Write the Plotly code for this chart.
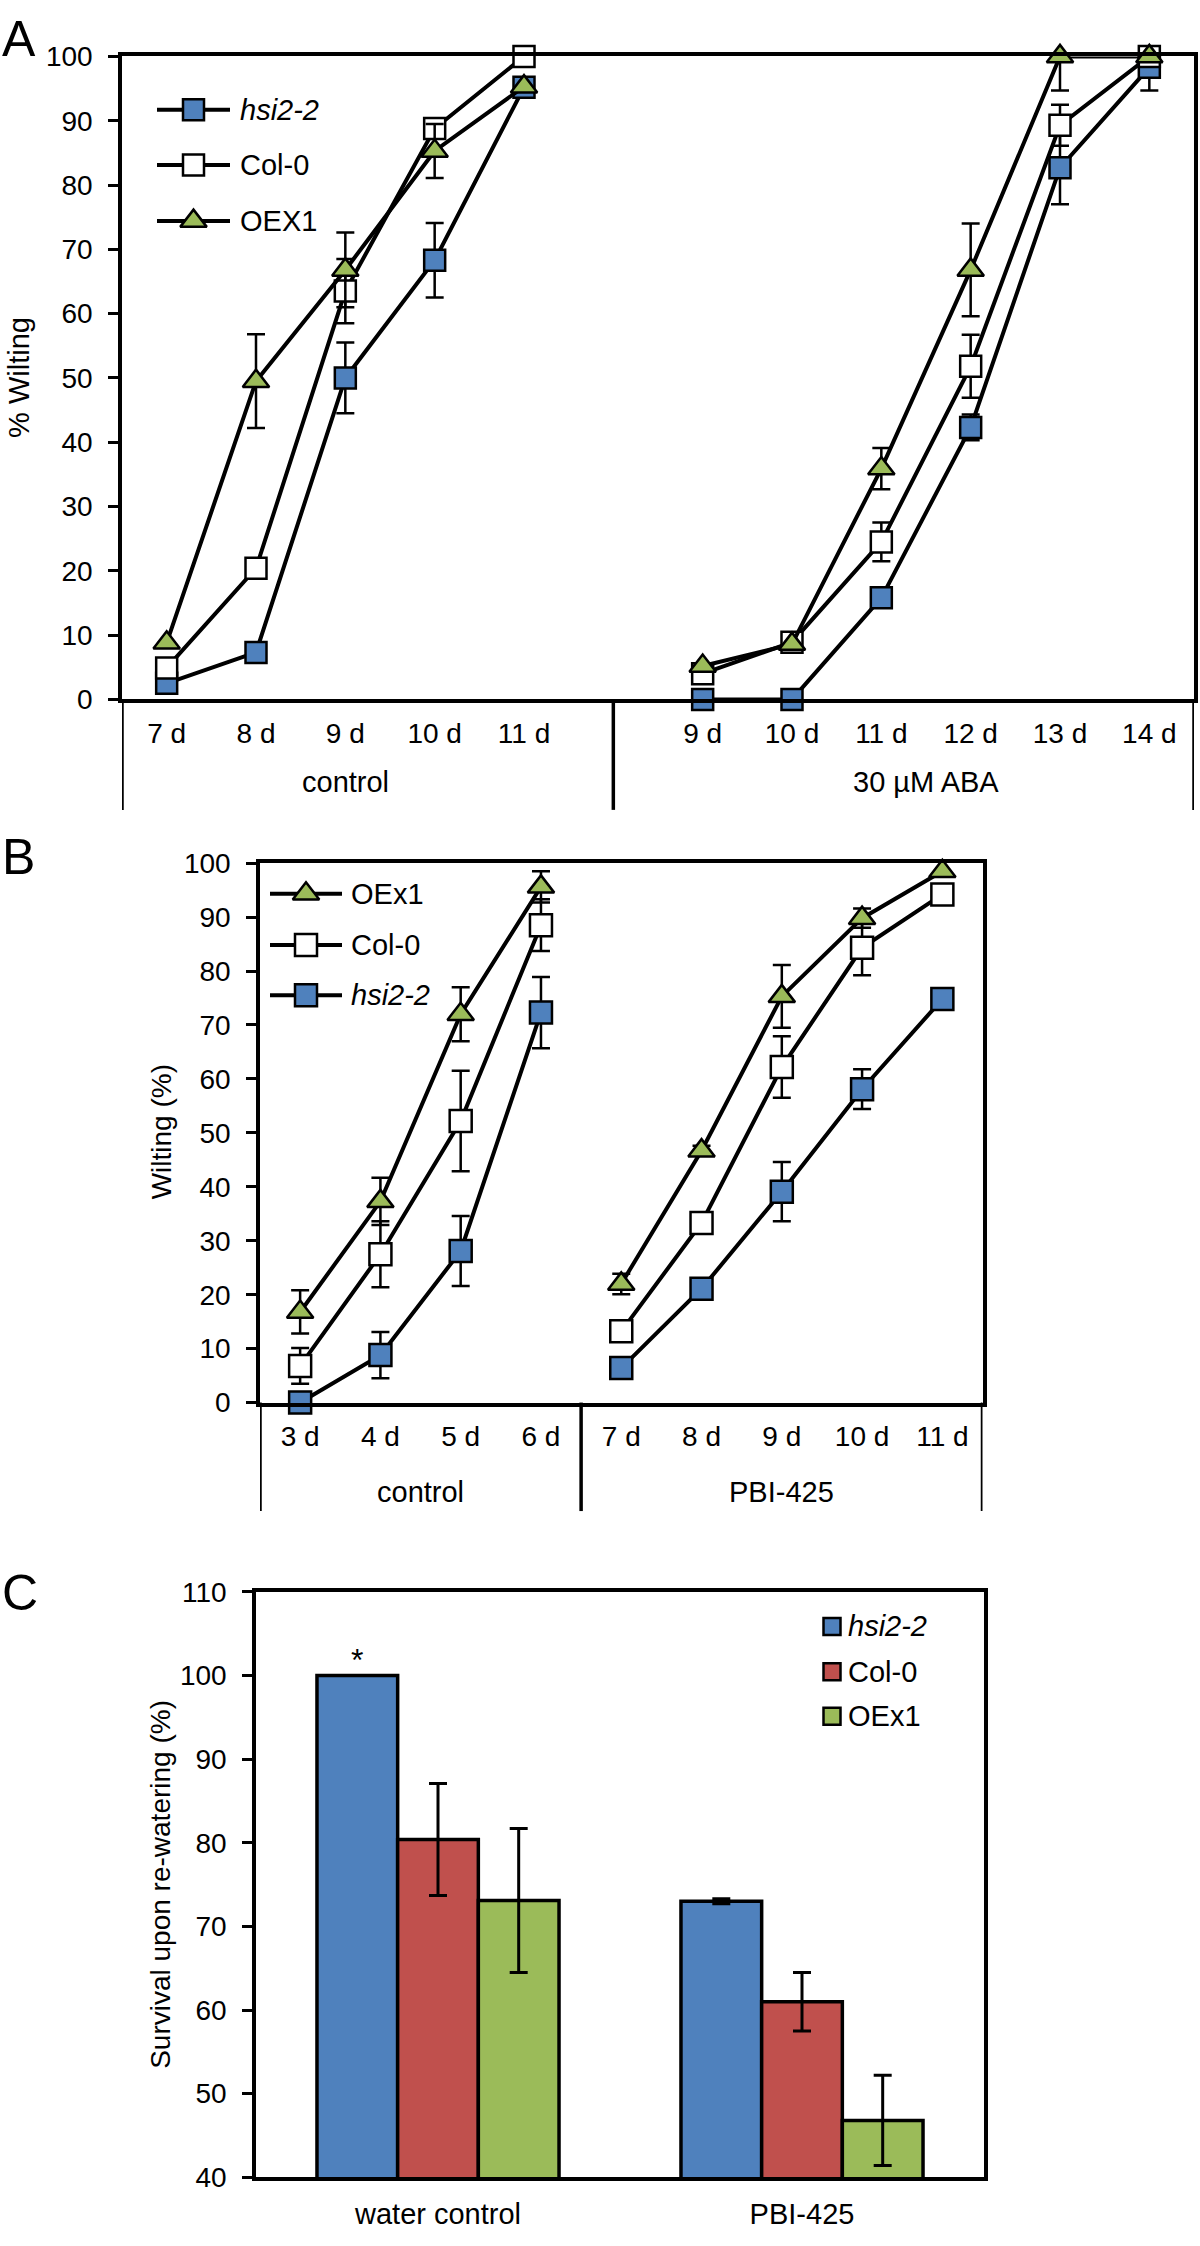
import plotly.graph_objects as go

# ---------------- DATA ----------------
# Panel A (% wilting)
a_groups = ["control", "30 µM ABA"]
a_ctrl_days = ["7 d", "8 d", "9 d", "10 d", "11 d"]
a_aba_days = ["9 d", "10 d", "11 d", "12 d", "13 d", "14 d"]
a_hsi_ctrl = [2.5, 7.3, 50.0, 68.3, 95.2]
a_hsi_ctrl_err = [None, None, 5.5, 5.8, None]
a_col_ctrl = [4.9, 20.4, 63.5, 88.8, 100.0]
a_col_ctrl_err = [None, None, 5.0, None, None]
a_oex_ctrl = [8.8, 49.5, 66.8, 85.3, 95.3]
a_oex_ctrl_err = [None, 7.3, 5.8, 4.2, None]
a_hsi_aba = [0.0, 0.0, 15.8, 42.3, 82.7, 98.3]
a_hsi_aba_err = [None, None, None, 2.0, 5.7, 3.6]
a_col_aba = [4.0, 8.9, 24.5, 51.8, 89.3, 100.0]
a_col_aba_err = [None, 1.5, 3.0, 4.9, 3.2, None]
a_oex_aba = [5.2, 8.6, 35.9, 66.8, 100.0, 100.0]
a_oex_aba_err = [None, None, 3.2, 7.2, 5.3, None]

# Panel B (wilting %)
b_groups = ["control", "PBI-425"]
b_ctrl_days = ["3 d", "4 d", "5 d", "6 d"]
b_pbi_days = ["7 d", "8 d", "9 d", "10 d", "11 d"]
b_oex_ctrl = [16.8, 37.3, 72.0, 95.6]
b_oex_ctrl_err = [4.0, 4.4, 5.0, 2.9]
b_col_ctrl = [6.8, 27.5, 52.2, 88.5]
b_col_ctrl_err = [3.3, 6.1, 9.3, 4.8]
b_hsi_ctrl = [0.0, 8.8, 28.1, 72.3]
b_hsi_ctrl_err = [None, 4.3, 6.5, 6.6]
b_oex_pbi = [22.0, 46.7, 75.3, 89.8, 98.5]
b_oex_pbi_err = [1.9, 0.9, 5.8, 1.8, None]
b_col_pbi = [13.2, 33.3, 62.2, 84.3, 94.2]
b_col_pbi_err = [None, None, 5.7, 5.1, None]
b_hsi_pbi = [6.4, 21.1, 39.1, 58.1, 74.8]
b_hsi_pbi_err = [None, None, 5.5, 3.7, None]

# Panel C (survival upon re-watering %)
c_cats = ["water control", "PBI-425"]
c_hsi = [100.0, 73.0]
c_hsi_err = [None, 0.3]
c_col = [80.4, 61.0]
c_col_err = [6.7, 3.5]
c_oex = [73.1, 46.8]
c_oex_err = [8.6, 5.4]

# ---------------- STYLE ----------------
FONT = "Liberation Sans, Arial, Helvetica, sans-serif"
BLUE = "#4F81BD"
RED = "#C0504D"
GREEN = "#9BBB59"
W, H = 1200, 2246


def fx(p):
    return p / W


def fy(p):
    return 1 - p / H


A_BOX = (122, 1194, 42, 694)
B_BOX = (260, 982.5, 860, 1407)
C_BOX = (256, 984, 1599, 2192.5)


def grouped(first, second, gap=True):
    out = list(first)
    if gap:
        out.append(None)
    out += list(second)
    return out


fig = go.Figure()


def add_series(xs, ys, errs, symbol, fill, size, xa, ya):
    fig.add_trace(go.Scatter(
        x=xs, y=ys, mode="lines+markers", showlegend=False,
        line=dict(color="black", width=4),
        marker=dict(symbol=symbol, size=size, color=fill,
                    line=dict(color="black", width=2.5)),
        error_y=dict(type="data", array=errs, symmetric=True, color="black",
                     thickness=2.5, width=9),
        cliponaxis=False, connectgaps=False, xaxis=xa, yaxis=ya))


# ---- Panel A ----
a_x = list(range(len(a_ctrl_days))) + [len(a_ctrl_days)] + \
    list(range(len(a_ctrl_days) + 1, len(a_ctrl_days) + 1 + len(a_aba_days)))
a_ticktext = a_ctrl_days + [""] + a_aba_days
add_series(a_x, grouped(a_hsi_ctrl, a_hsi_aba), grouped(a_hsi_ctrl_err, a_hsi_aba_err),
           "square", BLUE, 21, "x", "y")
add_series(a_x, grouped(a_col_ctrl, a_col_aba), grouped(a_col_ctrl_err, a_col_aba_err),
           "square", "white", 21, "x", "y")
add_series(a_x, grouped(a_oex_ctrl, a_oex_aba), grouped(a_oex_ctrl_err, a_oex_aba_err),
           "triangle-up", GREEN, 23, "x", "y")

# ---- Panel B ----
b_x = list(range(len(b_ctrl_days) + len(b_pbi_days)))
b_ticktext = b_ctrl_days + b_pbi_days
b_xg = b_x[:len(b_ctrl_days)] + [None] + b_x[len(b_ctrl_days):]
add_series(b_xg, grouped(b_hsi_ctrl, b_hsi_pbi), grouped(b_hsi_ctrl_err, b_hsi_pbi_err),
           "square", BLUE, 22, "x2", "y2")
add_series(b_xg, grouped(b_col_ctrl, b_col_pbi), grouped(b_col_ctrl_err, b_col_pbi_err),
           "square", "white", 22, "x2", "y2")
add_series(b_xg, grouped(b_oex_ctrl, b_oex_pbi), grouped(b_oex_ctrl_err, b_oex_pbi_err),
           "triangle-up", GREEN, 23, "x2", "y2")

# ---- Panel C ----
for vals, errs, col in [(c_hsi, c_hsi_err, BLUE), (c_col, c_col_err, RED), (c_oex, c_oex_err, GREEN)]:
    fig.add_trace(go.Bar(
        x=c_cats, y=vals, showlegend=False,
        marker=dict(color=col, line=dict(color="black", width=3.5)),
        error_y=dict(type="data", array=errs, symmetric=True, color="black",
                     thickness=3, width=9),
        xaxis="x3", yaxis="y3"))


# ---- legend keys (overlay pixel axis) ----
def legend_key(xl, xr, yc, symbol, fill, size):
    fig.add_trace(go.Scatter(x=[xl, xr], y=[yc, yc], mode="lines",
                             line=dict(color="black", width=4), showlegend=False,
                             hoverinfo="skip", xaxis="x4", yaxis="y4"))
    fig.add_trace(go.Scatter(x=[(xl + xr) / 2], y=[yc], mode="markers",
                             marker=dict(symbol=symbol, size=size, color=fill,
                                         line=dict(color="black", width=2.5)),
                             showlegend=False, hoverinfo="skip", xaxis="x4", yaxis="y4"))


annotations = []


def text(x, y, s, size=28, xanchor="left", yanchor="middle", angle=0):
    annotations.append(dict(x=fx(x), y=fy(y), xref="paper", yref="paper", text=s,
                            showarrow=False, xanchor=xanchor, yanchor=yanchor,
                            textangle=angle, font=dict(family=FONT, size=size, color="black")))


a_leg = [("<i>hsi2-2</i>", "square", BLUE, 21, 96),
         ("Col-0", "square", "white", 21, 152),
         ("OEX1", "triangle-up", GREEN, 23, 209)]
for name, sym, fill, sz, yc in a_leg:
    legend_key(157, 230, yc, sym, fill, sz)
    text(238, yc, name, size=29)

b_leg = [("OEx1", "triangle-up", GREEN, 23, 891),
         ("Col-0", "square", "white", 22, 943),
         ("<i>hsi2-2</i>", "square", BLUE, 22, 994)]
for name, sym, fill, sz, yc in b_leg:
    legend_key(270, 342, yc, sym, fill, sz)
    text(349, yc, name, size=29)

c_leg = [("<i>hsi2-2</i>", BLUE, 1634), ("Col-0", RED, 1680), ("OEx1", GREEN, 1725)]
for name, fill, yc in c_leg:
    fig.add_trace(go.Scatter(x=[832], y=[yc], mode="markers",
                             marker=dict(symbol="square", size=17, color=fill,
                                         line=dict(color="black", width=2.5)),
                             showlegend=False, hoverinfo="skip", xaxis="x4", yaxis="y4"))
    text(846, yc, name, size=29)

# axis titles
text(1, 368, "% Wilting", size=29, xanchor="left", angle=-90)
text(161, 1133, "Wilting (%)", size=28, xanchor="center", angle=-90)
text(161, 1896, "Survival upon re-watering (%)", size=28, xanchor="center", angle=-90)

# panel letters
text(0, 24, "A", size=50)
text(0, 854, "B", size=50)
text(0, 1600, "C", size=50)

GFONT = dict(family=FONT, size=29, color="black")
# group labels (centered on their categories)
annotations.append(dict(x=(a_x[0] + a_x[len(a_ctrl_days) - 1]) / 2, y=fy(778), xref="x", yref="paper",
                        text=a_groups[0], showarrow=False, xanchor="center", yanchor="middle", font=GFONT))
annotations.append(dict(x=(a_x[len(a_ctrl_days) + 1] + a_x[-1]) / 2, y=fy(778), xref="x", yref="paper",
                        text=a_groups[1], showarrow=False, xanchor="center", yanchor="middle", font=GFONT))
annotations.append(dict(x=(b_x[0] + b_x[len(b_ctrl_days) - 1]) / 2, y=fy(1498), xref="x2", yref="paper",
                        text=b_groups[0], showarrow=False, xanchor="center", yanchor="middle", font=GFONT))
annotations.append(dict(x=(b_x[len(b_ctrl_days)] + b_x[-1]) / 2, y=fy(1498), xref="x2", yref="paper",
                        text=b_groups[1], showarrow=False, xanchor="center", yanchor="middle", font=GFONT))

# significance star on hsi2-2 water control bar
annotations.append(dict(x=c_cats[0], y=c_hsi[0], xref="x3", yref="y3", text="*",
                        showarrow=False, xanchor="center", yanchor="bottom",
                        xshift=-80.6, yshift=-4, font=dict(family=FONT, size=32, color="black")))

# group separator lines below category axes
shapes = []
for xv in [-0.5, len(a_ctrl_days), a_x[-1] + 0.5]:
    shapes.append(dict(type="line", xref="x", yref="paper", x0=xv, x1=xv,
                       y0=fy(694), y1=fy(806), line=dict(color="black", width=3.5)))
for xv in [-0.5, len(b_ctrl_days) - 0.5, b_x[-1] + 0.5]:
    shapes.append(dict(type="line", xref="x2", yref="paper", x0=xv, x1=xv,
                       y0=fy(1407), y1=fy(1517), line=dict(color="black", width=3.5)))

axis_common = dict(showline=True, linecolor="black", linewidth=3.5, mirror=True,
                   showgrid=False, zeroline=False,
                   tickfont=dict(family=FONT, size=28, color="black"))

fig.update_layout(
    width=W, height=H, margin=dict(l=0, r=0, t=0, b=0),
    paper_bgcolor="white", plot_bgcolor="rgba(0,0,0,0)",
    barmode="group", bargap=0.335, bargroupgap=0,
    showlegend=False,
    annotations=annotations, shapes=shapes,
    xaxis=dict(domain=[fx(A_BOX[0]), fx(A_BOX[1])], anchor="y", range=[-0.5, a_x[-1] + 0.5],
               tickmode="array", tickvals=a_x, ticktext=a_ticktext, ticks="",
               ticklabelstandoff=6, **axis_common),
    yaxis=dict(domain=[fy(A_BOX[3]), fy(A_BOX[2])], anchor="x", range=[0, 100], dtick=10,
               ticks="outside", ticklen=10, tickwidth=3, tickcolor="black",
               ticklabelstandoff=10, **axis_common),
    xaxis2=dict(domain=[fx(B_BOX[0]), fx(B_BOX[1])], anchor="y2", range=[-0.5, b_x[-1] + 0.5],
                tickmode="array", tickvals=b_x, ticktext=b_ticktext, ticks="",
                ticklabelstandoff=6, **axis_common),
    yaxis2=dict(domain=[fy(B_BOX[3]), fy(B_BOX[2])], anchor="x2", range=[0, 100], dtick=10,
                ticks="outside", ticklen=10, tickwidth=3, tickcolor="black",
                ticklabelstandoff=10, **axis_common),
    xaxis3=dict(domain=[fx(C_BOX[0]), fx(C_BOX[1])], anchor="y3", type="category",
                range=[-0.5, 1.5], ticks="", ticklabelstandoff=8,
                **{**axis_common, "tickfont": dict(family=FONT, size=29, color="black")}),
    yaxis3=dict(domain=[fy(C_BOX[3]), fy(C_BOX[2])], anchor="x3", range=[40, 110], dtick=10,
                ticks="outside", ticklen=10, tickwidth=3, tickcolor="black",
                ticklabelstandoff=10, **axis_common),
    xaxis4=dict(domain=[0, 1], anchor="y4", range=[0, W], visible=False, fixedrange=True),
    yaxis4=dict(domain=[0, 1], anchor="x4", range=[H, 0], visible=False, fixedrange=True),
)

fig.write_html("out.html", config={"displayModeBar": False},
               post_script="document.body.style.margin='0';")
